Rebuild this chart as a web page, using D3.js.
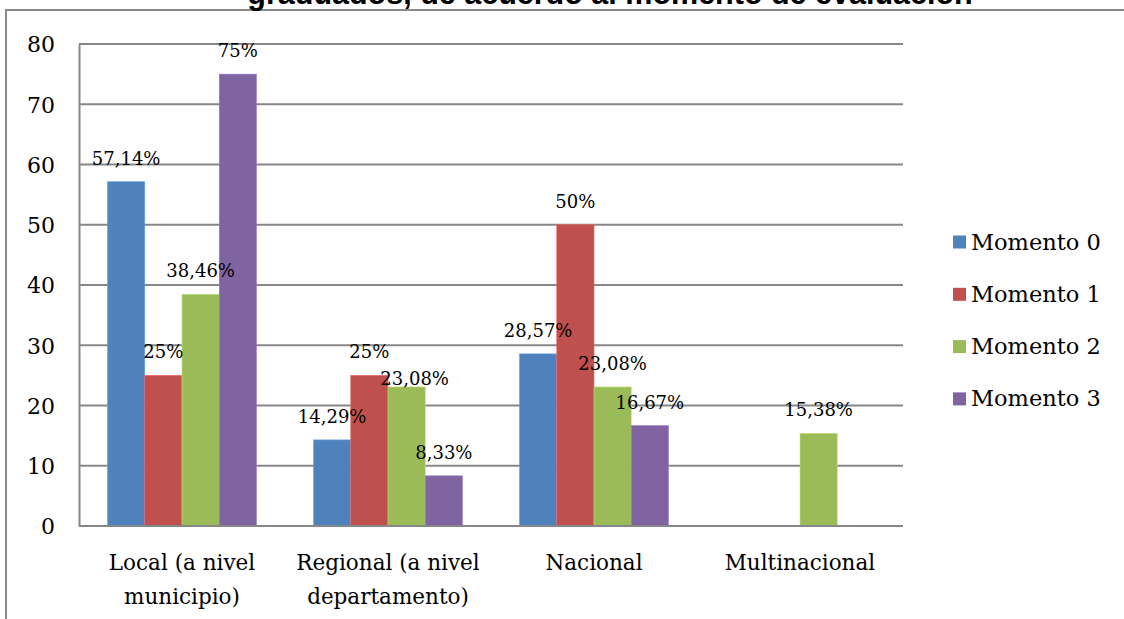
<!DOCTYPE html>
<html>
<head>
<meta charset="utf-8">
<script src="https://cdn.jsdelivr.net/npm/d3@7"></script>
<style>
  html, body { margin: 0; padding: 0; background: #fff; overflow: hidden; }
  svg { display: block; }
</style>
</head>
<body>
<svg id="chart" width="1124" height="619"></svg>
<script>
const titleText = "graduados, de acuerdo al momento de evaluación";
const categories = [
  ["Local (a nivel", "municipio)"],
  ["Regional (a nivel", "departamento)"],
  ["Nacional"],
  ["Multinacional"]
];
const seriesNames = ["Momento 0", "Momento 1", "Momento 2", "Momento 3"];
const momento0 = [57.14, 14.29, 28.57, null];
const momento1 = [25, 25, 50, null];
const momento2 = [38.46, 23.08, 23.08, 15.38];
const momento3 = [75, 8.33, 16.67, null];
const valueLabels0 = ["57,14%", "14,29%", "28,57%", null];
const valueLabels1 = ["25%", "25%", "50%", null];
const valueLabels2 = ["38,46%", "23,08%", "23,08%", "15,38%"];
const valueLabels3 = ["75%", "8,33%", "16,67%", null];
const yTicks = [0, 10, 20, 30, 40, 50, 60, 70, 80];

(function () {
const seriesValues = [momento0, momento1, momento2, momento3];
const seriesLabels = [valueLabels0, valueLabels1, valueLabels2, valueLabels3];
const colors = ["#4F81BD", "#C0504D", "#9BBB59", "#8064A2"];
const serif = "'DejaVu Serif', serif";

const svg = d3.select("#chart");

// outer chart border
svg.append("rect").attr("x", 6).attr("y", 10).attr("width", 1140).attr("height", 640)
  .attr("fill", "none").attr("stroke", "#8a8a8a").attr("stroke-width", 2);

// title (cut off at top, as in the original)
svg.append("text").attr("x", 610).attr("y", 4).attr("text-anchor", "middle")
  .attr("font-family", "'Liberation Sans', Arial, sans-serif").attr("font-weight", "bold")
  .attr("font-size", 30.5).attr("fill", "#000").text(titleText);

const pL = 79, pR = 903, pT = 44, pB = 526;
const x = d3.scaleBand().domain(d3.range(categories.length)).range([pL, pR])
  .paddingInner(0.277).paddingOuter(0.1385);
const xs = d3.scaleBand().domain(d3.range(seriesNames.length)).range([0, x.bandwidth()]);
const y = d3.scaleLinear().domain([0, 80]).range([pB, pT]);

// gridlines
svg.append("g").selectAll("line").data(yTicks.filter(t => t > 0)).join("line")
  .attr("x1", pL).attr("x2", pR).attr("y1", d => y(d)).attr("y2", d => y(d))
  .attr("stroke", "#878787").attr("stroke-width", 2);

// y axis
const yAxis = d3.axisLeft(y).tickValues(yTicks).tickSize(0).tickPadding(24);
const ya = svg.append("g").attr("transform", `translate(${pL},0)`).call(yAxis);
ya.select(".domain").attr("stroke", "#878787").attr("stroke-width", 2);
ya.selectAll("text").attr("font-family", serif).attr("font-size", 22).attr("fill", "#000")
  .attr("dy", "0.36em");

// bars
const barData = [];
seriesValues.forEach((vals, s) => vals.forEach((v, c) => {
  if (v != null) barData.push({ s, c, v, label: seriesLabels[s][c] });
}));
svg.append("g").selectAll("rect").data(barData).join("rect")
  .attr("x", d => x(d.c) + xs(d.s))
  .attr("width", xs.bandwidth())
  .attr("y", d => y(d.v))
  .attr("height", d => y(0) - y(d.v))
  .attr("fill", d => colors[d.s])
  .attr("stroke", d => d3.color(colors[d.s]).brighter(0.6))
  .attr("stroke-width", 0.6);

// x axis baseline
svg.append("line").attr("x1", pL).attr("x2", pR).attr("y1", y(0)).attr("y2", y(0))
  .attr("stroke", "#878787").attr("stroke-width", 2);

// data labels (one label nudged to avoid overlap, as in the original)
const labelNudge = { "1-2": { dx: 8, dy: 15 } };
const nud = (d, k) => ((labelNudge[d.c + "-" + d.s] || {})[k] || 0);
svg.append("g").selectAll("text").data(barData).join("text")
  .attr("x", d => x(d.c) + xs(d.s) + xs.bandwidth() / 2 + nud(d, "dx"))
  .attr("y", d => y(d.v) - 17 + nud(d, "dy"))
  .attr("text-anchor", "middle")
  .attr("font-family", serif).attr("font-size", 18).attr("fill", "#000")
  .text(d => d.label);

// category labels
const cat = svg.append("g").selectAll("text").data(categories).join("text")
  .attr("x", (d, i) => x(i) + x.bandwidth() / 2)
  .attr("y", 570)
  .attr("text-anchor", "middle")
  .attr("font-family", serif).attr("font-size", 21.5).attr("fill", "#000");
cat.selectAll("tspan").data(d => d).join("tspan")
  .attr("x", function () { return d3.select(this.parentNode).attr("x"); })
  .attr("dy", (d, i) => i === 0 ? 0 : 34)
  .text(d => d);

// legend
const lg = svg.append("g").selectAll("g").data(seriesNames).join("g")
  .attr("transform", (d, i) => `translate(953, ${242 + i * 52.3})`);
lg.append("rect").attr("x", 0).attr("y", -6.5).attr("width", 13).attr("height", 13)
  .attr("fill", (d, i) => colors[i]);
lg.append("text").attr("x", 18).attr("y", 7.5)
  .attr("font-family", serif).attr("font-size", 22.5).attr("fill", "#000")
  .text(d => d);
})();
</script>
</body>
</html>
